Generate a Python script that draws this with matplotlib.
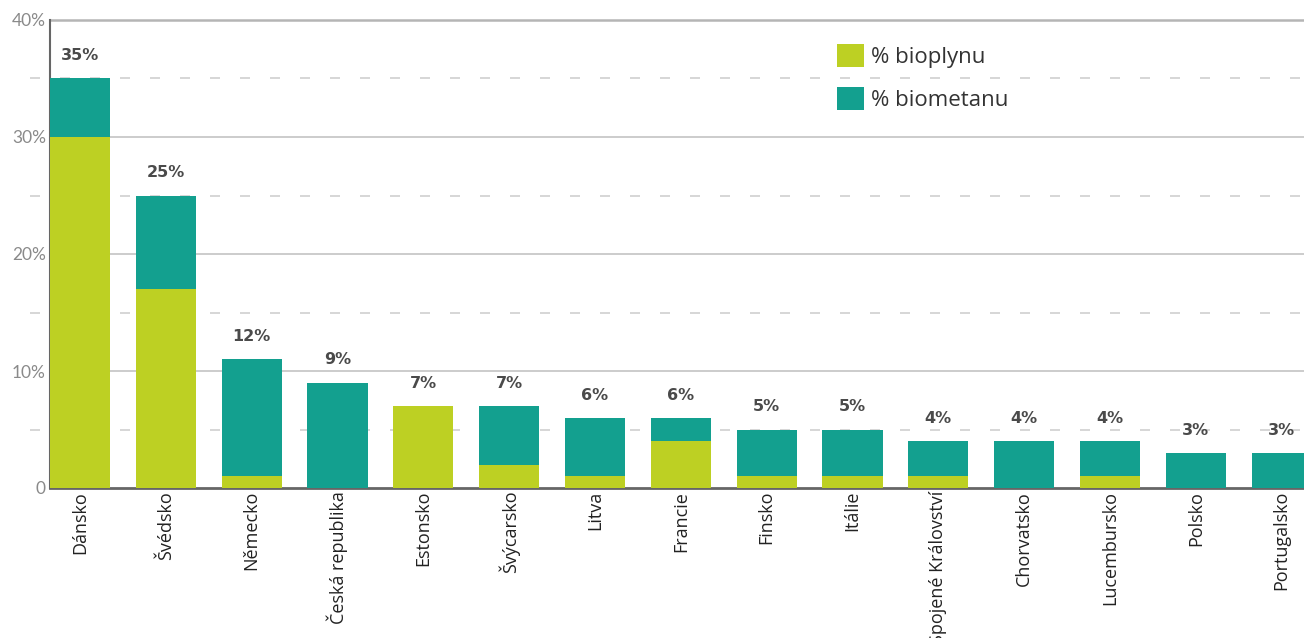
import matplotlib.pyplot as plt
import numpy as np

countries = ['Dánsko', 'Švédsko', 'Německo', 'Česká republika', 'Estonsko',
             'Švýcarsko', 'Litva', 'Francie', 'Finsko', 'Itálie',
             'Spojené Království', 'Chorvatsko', 'Lucembursko', 'Polsko', 'Portugalsko']
bioplyn = [30, 17, 1, 0, 7, 2, 1, 4, 1, 1, 1, 0, 1, 0, 0]
biometan = [5, 8, 10, 9, 0, 5, 5, 2, 4, 4, 3, 4, 3, 3, 3]
labels = ['35%', '25%', '12%', '9%', '7%', '7%', '6%', '6%', '5%', '5%',
          '4%', '4%', '4%', '3%', '3%']
yticks = [0, 10, 20, 30, 40]
ytick_labels = ['0', '10%', '20%', '30%', '40%']

lime = '#bdd023'
teal = '#13a08f'

fig = plt.figure(figsize=(13.04, 6.38), dpi=100)
ax = fig.add_axes([50 / 1304, 1 - 488 / 638, 1 - 50 / 1304, 468 / 638])

x = np.arange(len(countries))
ax.bar(x, bioplyn, width=0.7, color=lime, label='% bioplynu', zorder=3)
ax.bar(x, biometan, width=0.7, bottom=bioplyn, color=teal, label='% biometanu', zorder=3)

totals = np.array(bioplyn) + np.array(biometan)
for xi, t, lab in zip(x, totals, labels):
    ax.text(xi, t + 1.3, lab, ha='center', va='bottom', fontsize=11.5,
            fontweight='bold', color='#4a4a4a', zorder=4)

ax.set_xlim(-0.35, 14.26)
ax.set_ylim(0, 40)

# grid: solid at 10s, dashed at 5s
for v in [10, 20, 30]:
    ax.axhline(v, color='#c4c4c4', linewidth=1.2, zorder=1)
ax.axhline(40, color='#b5b5b5', linewidth=1.8, zorder=1, clip_on=False)
for v in [5, 15, 25, 35]:
    ax.axhline(v, xmin=-0.016, xmax=1, color='#d0d0d0', linewidth=1.2,
               dashes=(6, 12), zorder=1, clip_on=False)

for s in ['top', 'right']:
    ax.spines[s].set_visible(False)
ax.spines['left'].set_color('#666666')
ax.spines['left'].set_linewidth(1.5)
ax.spines['bottom'].set_color('#666666')
ax.spines['bottom'].set_linewidth(2)

ax.set_yticks(yticks)
ax.set_yticklabels(ytick_labels, fontsize=12.5, color='#8a8a8a', family='Lato')
ax.tick_params(axis='y', length=0, pad=3)
ax.set_xticks(x)
ax.set_xticklabels(countries, rotation=90, fontsize=13, color='#222222',
                   family=['Liberation Sans Narrow', 'Open Sans'])
ax.tick_params(axis='x', length=0, pad=2)

leg = ax.legend(loc='upper left', bbox_to_anchor=(817 / 1304, 1 - 24 / 638),
                bbox_transform=fig.transFigure, frameon=False,
                prop={'family': 'Open Sans', 'size': 16},
                handlelength=1.2, handleheight=1.2, handletextpad=0.35,
                labelspacing=0.85, labelcolor='#333333')

fig.savefig('out.png', dpi=100)
